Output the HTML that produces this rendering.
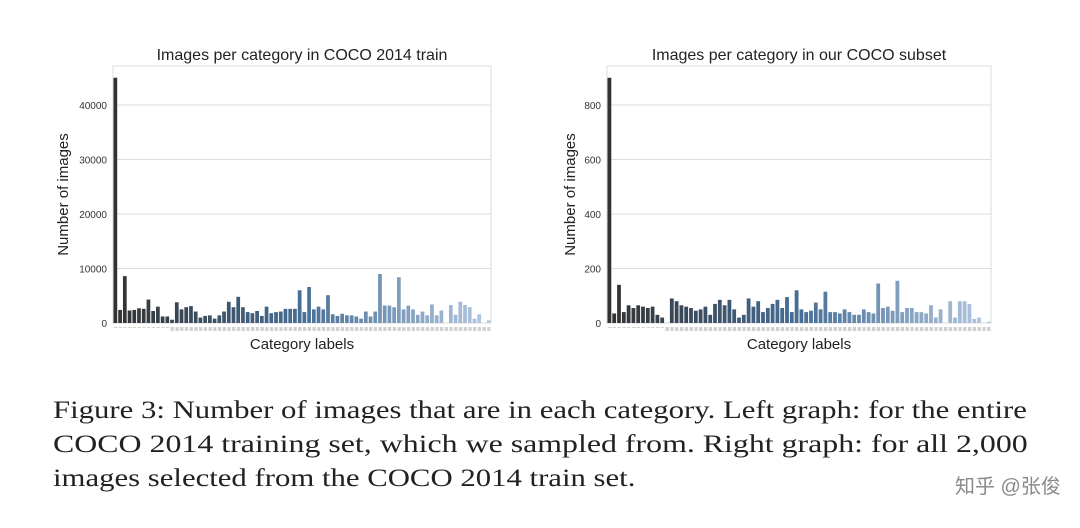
<!DOCTYPE html>
<html><head><meta charset="utf-8"><style>
body{margin:0;width:1080px;height:528px;background:#fff;overflow:hidden;position:relative;font-family:"Liberation Sans",sans-serif}
.cap{position:absolute;left:53px;font-family:"Liberation Serif",serif;font-size:25px;color:#222;white-space:nowrap;transform-origin:0 0;transform:scaleX(1.23)}
.wm{position:absolute;left:955px;top:470px;white-space:nowrap;font-family:"Liberation Sans","Noto Sans CJK SC",sans-serif;font-size:20px;color:#8a8a8a}
</style></head><body>
<svg id="s" width="1080" height="528" style="position:absolute;left:0;top:0"></svg>
<div class="cap" style="top:397px">Figure 3: Number of images that are in each category. Left graph: for the entire</div>
<div class="cap" style="top:431px;transform:scaleX(1.275)">COCO 2014 training set, which we sampled from. Right graph: for all 2,000</div>
<div class="cap" style="top:465px">images selected from the COCO 2014 train set.</div>
<div class="wm">知乎 @张俊</div>
<script>
const L=[45,2.4,8.6,2.3,2.4,2.7,2.6,4.3,2.2,3,1.2,1.2,0.6,3.8,2.5,2.9,3.1,2.1,1,1.3,1.4,0.8,1.4,2.1,3.9,2.9,4.8,2.9,2,1.8,2.2,1.3,3,1.8,2,2.1,2.6,2.6,2.6,6,2,6.6,2.5,3,2.5,5.1,1.6,1.3,1.7,1.4,1.4,1.2,0.8,2.1,1.2,2.1,9,3.2,3.2,2.9,8.4,2.5,3.2,2.5,1.5,2.1,1.4,3.4,1.4,2.3,0,3.3,1.5,3.9,3.3,2.9,0.8,1.6,0,0.5];
const R=[900,35,140,40,65,55,65,60,55,60,30,20,0,90,80,65,60,55,45,50,60,30,70,85,65,85,50,20,30,90,60,80,40,55,70,85,55,95,40,120,50,40,45,75,50,115,40,40,35,50,40,30,30,50,40,35,145,55,60,45,155,40,55,55,40,40,35,65,20,50,0,80,20,80,80,70,15,20,0,5];
function col(t){const a=[[50,50,50],[70,110,150],[180,200,225]];let i=t<.5?0:1,u=t<.5?t*2:(t-.5)*2;return 'rgb('+a[i].map((v,k)=>Math.round(v+(a[i+1][k]-v)*u)).join(',')+')';}
let h='';
function chart(x0,x1,data,scale,ticks,title){
 const top=66,base=323;
 h+=`<rect x="${x0}" y="${top}" width="${x1-x0}" height="${base-top}" fill="#fff" stroke="#ddd"/>`;
 ticks.forEach((t,i)=>{const y=base-i*54.5;h+=`<line x1="${x0}" x2="${x1}" y1="${y}" y2="${y}" stroke="#ddd"/><text x="${x0-6}" y="${y+4}" font-size="10" text-anchor="end" fill="#333">${t}</text>`;});
 const n=data.length,w=(x1-x0)/n;
 data.forEach((v,i)=>{const hh=v*scale;h+=`<rect x="${x0+i*w+0.5}" y="${base-hh}" width="${w-1}" height="${hh}" fill="${col(i/(n-1))}"/>`;
  h+=`<rect x="${x0+i*w+1}" y="${base+4}" width="${w-1.5}" height="${i<12?1:4}" fill="#d0d0d0"/>`;});
 const cx=(x0+x1)/2;
 h+=`<text x="${cx}" y="60" font-size="16" text-anchor="middle" fill="#222">${title}</text>`;
 h+=`<text x="${cx}" y="349" font-size="15" text-anchor="middle" fill="#222">Category labels</text>`;
 h+=`<text transform="translate(${x0-(ticks[1].length>3?45:32)},${(top+base)/2}) rotate(-90)" font-size="15" text-anchor="middle" fill="#222">Number of images</text>`;
}
chart(113,491,L,5.45,['0','10000','20000','30000','40000'],'Images per category in COCO 2014 train');
chart(607,991,R,0.2725,['0','200','400','600','800'],'Images per category in our COCO subset');
document.getElementById('s').innerHTML=h;
</script>
</body></html>
